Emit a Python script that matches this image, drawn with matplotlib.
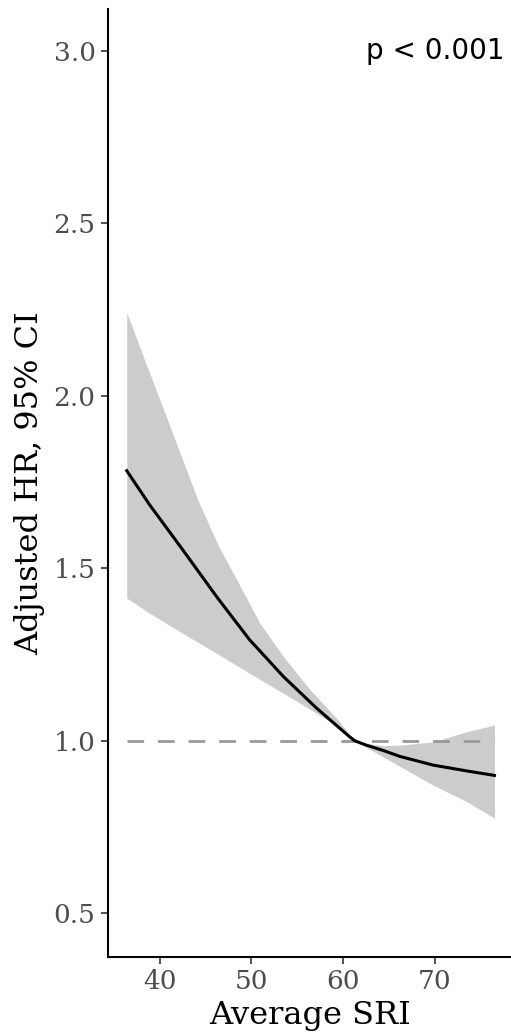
import numpy as np
from matplotlib import pyplot as plt

# curva HR ajustada
sri = [36.4, 38.9, 42.5, 46.2, 49.8, 53.5, 57.1, 60.7, 61.3, 62.5, 64.4, 66.2, 69.8, 73.5, 76.5]
hr = [1.783, 1.684, 1.554, 1.418, 1.293, 1.186, 1.095, 1.012, 1.0, 0.988, 0.972, 0.955, 0.930, 0.913, 0.900]

# banda IC 95%: borde superior
hi_x = [36.4, 44.2, 46.5, 48.4, 50.9, 53.5, 56.4, 59.3, 61.3, 62.5, 64.4, 66.2, 69.8, 73.5, 76.5]
hi_y = [2.241, 1.695, 1.560, 1.467, 1.342, 1.244, 1.148, 1.065, 1.0, 0.993, 0.986, 0.988, 0.997, 1.027, 1.046]
# borde inferior
lo_x = [36.4, 38.9, 42.5, 46.2, 49.8, 53.5, 57.1, 60.0, 61.3, 62.5, 66.2, 69.8, 73.5, 76.5]
lo_y = [1.414, 1.370, 1.312, 1.254, 1.196, 1.138, 1.080, 1.032, 1.0, 0.982, 0.926, 0.872, 0.824, 0.776]

xticks = [40, 50, 60, 70]
yticks = [0.5, 1.0, 1.5, 2.0, 2.5, 3.0]

fig = plt.figure(figsize=(5.11, 10.33), dpi=100)
ax = fig.add_axes([0.2114, 0.0736, 0.7886, 0.9174])

# juntamos las x de ambos bordes para el relleno
x_band = np.array(sorted(set(hi_x) | set(lo_x)))
hi_b = np.interp(x_band, hi_x, hi_y)
lo_b = np.interp(x_band, lo_x, lo_y)
ax.fill_between(x_band, lo_b, hi_b, color='#cccccc', linewidth=0)

ax.plot([sri[0], sri[-1]], [1.0, 1.0], color='#999999', linestyle=(0, (6, 5)), linewidth=2)
ax.plot(sri, hr, color='black', linewidth=2.2)

ax.text(70, 3.0, 'p < 0.001', ha='center', va='center', fontsize=20, family='DejaVu Sans')

ax.set_xlim(34.36, 78.3)
ax.set_ylim(0.374, 3.12)
ax.set_xticks(xticks)
ax.set_yticks(yticks)
ax.set_yticklabels(['%.1f' % v for v in yticks])

for s in ['top', 'right']:
    ax.spines[s].set_visible(False)
for s in ['left', 'bottom']:
    ax.spines[s].set_linewidth(1.5)

ax.tick_params(axis='both', length=5, width=1.2, color='#333333', labelcolor='#4d4d4d', labelsize=19, pad=4)
for lab in ax.get_xticklabels() + ax.get_yticklabels():
    lab.set_family('DejaVu Serif')

ax.set_xlabel('Average SRI', fontsize=23, family='DejaVu Serif', labelpad=4)
ax.set_ylabel('Adjusted HR, 95% CI', fontsize=23, family='DejaVu Serif', labelpad=6)

fig.savefig('out.png', dpi=100)
